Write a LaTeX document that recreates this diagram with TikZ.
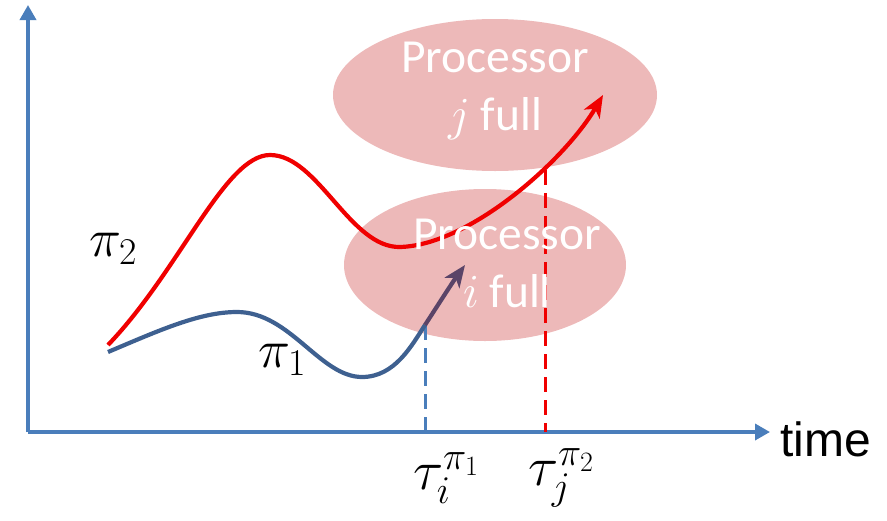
\RequirePackage{fix-cm}
\documentclass[tikz,border=0pt]{standalone}
\usepackage{fontspec}
\newfontfamily\carl{Carlito}
\newfontfamily\lsans{Liberation Sans}
\usetikzlibrary{shapes.geometric,arrows.meta}
\definecolor{pinkE}{RGB}{237,185,185}
\definecolor{axisblue}{RGB}{74,126,187}
\definecolor{pathblue}{RGB}{62,96,144}
\definecolor{pathpurple}{RGB}{90,68,104}
\definecolor{pathred}{RGB}{240,0,0}
\tikzset{
  blob/.style={ellipse, fill=pinkE, draw=none, inner sep=0pt},
  proclabel/.style={text=white, font=\carl\fontsize{47.5}{58}\selectfont, align=center, inner sep=0pt},
  axisline/.style={draw=axisblue, line width=3.5pt, -{Triangle[length=15pt,width=16pt]}},
  curve/.style={line width=4.2pt},
  vdash/.style={line width=3pt, dash pattern=on 15pt off 8pt},
  mathlab/.style={inner sep=0pt, font=\fontsize{54}{60}\selectfont},
  taulab/.style={inner sep=0pt, font=\fontsize{56}{62}\selectfont},
}
\begin{document}
\begin{tikzpicture}[x=1pt,y=-1pt]
\useasboundingbox (0,0) rectangle (887,520);
% ellipses
\node[blob, minimum width=324pt, minimum height=152pt] (ej) at (495,95) {};
\node[blob, minimum width=282pt, minimum height=152pt] (ei) at (485,265) {};
% axes
\coordinate (O) at (28,432);
\coordinate (ytop) at (28,5);
\coordinate (xend) at (770,432);
\draw[axisline] (O) -- (ytop);
\draw[axisline] (O) -- (xend);
% dashed markers
\coordinate (bd) at (425,325);
\coordinate (bdx) at (425,432);
\coordinate (rd) at (545,170);
\coordinate (rdx) at (545,432);
\draw[vdash, draw=axisblue] (bd) -- (bdx);
\draw[vdash, draw=pathred] (rd) -- (rdx);
% red curve
\coordinate (r0) at (108,345);
\coordinate (r1) at (270,155);
\coordinate (r2) at (400,247);
\coordinate (r3) at (603,95);
\draw[curve, draw=pathred, -{Stealth[length=22pt,width=18pt,inset=6pt]}]
  (r0) .. controls (180,270) and (225,155) .. (r1)
       .. controls (318,155) and (350,248) .. (r2)
       .. controls (470,245) and (565,160) .. (r3);
% blue curve
\coordinate (b0) at (108,352);
\coordinate (b1) at (237,312);
\coordinate (b2) at (362,377);
\coordinate (b3) at (465,265);
\draw[curve, draw=pathblue]
  (b0) .. controls (160,330) and (200,312) .. (b1)
       .. controls (290,312) and (320,377) .. (b2)
       .. controls (395,377) and (412,345) .. (bd);
\draw[curve, draw=pathpurple, -{Stealth[length=22pt,width=18pt,inset=6pt]}]
  (bd) .. controls (438,305) and (452,283) .. (b3);
% texts
\node[proclabel] (tj) at (495,91) {Processor\\$j$ full};
\node[proclabel] (ti) at (507,263) {Processor\\$i$ full};
\node[mathlab] (p2) at (113,249) {$\pi_2$};
\node[mathlab] (p1) at (282,360) {$\pi_1$};
\node[taulab] (t1) at (446,478) {$\tau_i^{\pi_1}$};
\node[taulab] (t2) at (561,478) {$\tau_j^{\pi_2}$};
\node[font=\lsans\fontsize{48}{52}\selectfont, anchor=west, inner sep=0pt] (time) at (780,439) {time};
\end{tikzpicture}
\end{document}
